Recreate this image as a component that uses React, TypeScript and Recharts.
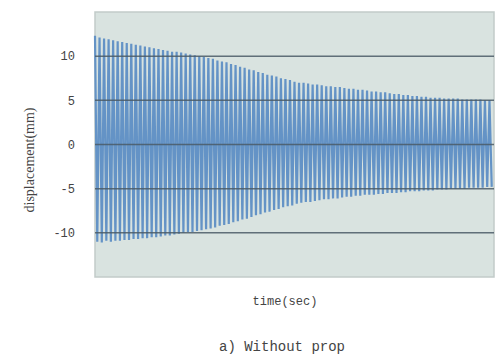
import React from "react";
import { ComposedChart, Line, XAxis, YAxis, CartesianGrid, ReferenceArea, ReferenceLine } from "recharts";

// Peak displacement values (mm) per oscillation cycle
const upperPeaks = [
  12.3, 12.1, 12.0, 11.9, 11.8, 11.7, 11.6, 11.5, 11.4, 11.3,
  11.2, 11.1, 11.0, 10.9, 10.8, 10.7, 10.6, 10.5, 10.5, 10.4,
  10.3, 10.2, 10.1, 10.0, 9.9, 9.8, 9.7, 9.5, 9.4, 9.3,
  9.1, 9.0, 8.8, 8.7, 8.5, 8.4, 8.2, 8.1, 7.9, 7.8,
  7.7, 7.5, 7.4, 7.3, 7.1, 7.0, 7.0, 6.9, 6.8, 6.8,
  6.7, 6.6, 6.6, 6.5, 6.5, 6.4, 6.3, 6.3, 6.2, 6.2,
  6.1, 6.0, 6.0, 5.9, 5.9, 5.8, 5.7, 5.7, 5.6, 5.6,
  5.5, 5.5, 5.4, 5.4, 5.3, 5.3, 5.3, 5.2, 5.2, 5.2,
  5.2, 5.1, 5.1, 5.1, 5.1, 5.1, 5.0, 5.0,
];
const lowerPeaks = [
  -11.0, -11.1, -10.9, -11.0, -10.9, -10.9, -10.8, -10.8, -10.7, -10.7,
  -10.6, -10.6, -10.5, -10.5, -10.4, -10.3, -10.3, -10.2, -10.1, -10.0,
  -9.9, -9.9, -9.8, -9.7, -9.6, -9.5, -9.4, -9.2, -9.1, -9.0,
  -8.8, -8.7, -8.5, -8.4, -8.2, -8.0, -7.9, -7.7, -7.6, -7.4,
  -7.3, -7.1, -7.0, -6.9, -6.7, -6.6, -6.5, -6.5, -6.4, -6.3,
  -6.2, -6.2, -6.1, -6.1, -6.0, -5.9, -5.9, -5.8, -5.8, -5.7,
  -5.7, -5.7, -5.6, -5.6, -5.5, -5.5, -5.5, -5.4, -5.4, -5.3,
  -5.3, -5.3, -5.2, -5.2, -5.2, -5.1, -5.1, -5.1, -5.0, -5.0,
  -5.0, -5.0, -4.9, -4.9, -4.9, -4.9, -4.8, -4.8,
];
const yTicks = [-10, -5, 0, 5, 10];

const data: { t: number; d: number }[] = [];
upperPeaks.forEach((u, i) => {
  data.push({ t: i, d: u });
  data.push({ t: i + 0.5, d: lowerPeaks[i] });
});

const mono = "'Liberation Mono', monospace";
const serif = "'Liberation Serif', serif";

export default function App() {
  return (
    <div style={{ position: "absolute", left: 0, top: 0, width: 496, height: 362, background: "#fff" }}>
      <ComposedChart
        width={496}
        height={362}
        data={data}
        margin={{ top: 12, right: 2, bottom: 85, left: 0 }}
      >
        <CartesianGrid vertical={false} horizontal={false} fill="#d9e3e0" />
        <XAxis dataKey="t" type="number" domain={[0, upperPeaks.length]} hide />
        <YAxis
          width={95}
          domain={[-15, 15]}
          ticks={yTicks}
          axisLine={false}
          tickLine={false}
          tickMargin={14}
          tick={{ fontFamily: mono, fontSize: 12, fill: "#444" }}
        />
        <ReferenceArea y1={-15} y2={15} fill="none" stroke="#c2cbc9" strokeWidth={1.5} />
        <Line
          type="linear"
          dataKey="d"
          stroke="#6493c6"
          strokeWidth={2.2}
          dot={false}
          isAnimationActive={false}
        />
        {yTicks.map((v) => (
          <ReferenceLine key={v} y={v} stroke="#4a5a66" strokeWidth={1.5} strokeOpacity={0.85} zIndex={700} />
        ))}
      </ComposedChart>
      <div
        style={{
          position: "absolute",
          left: 30,
          top: 160,
          transform: "translate(-50%, -50%) rotate(-90deg)",
          fontFamily: serif,
          fontSize: 14,
          color: "#444",
          whiteSpace: "nowrap",
        }}
      >
        displacement(mm)
      </div>
      <div
        style={{
          position: "absolute",
          left: 285,
          top: 302,
          transform: "translate(-50%, -50%)",
          fontFamily: mono,
          fontSize: 12,
          color: "#444",
          whiteSpace: "nowrap",
        }}
      >
        time(sec)
      </div>
      <div
        style={{
          position: "absolute",
          left: 282,
          top: 347,
          transform: "translate(-50%, -50%)",
          fontFamily: mono,
          fontSize: 14,
          color: "#444",
          whiteSpace: "nowrap",
        }}
      >
        a) Without prop
      </div>
    </div>
  );
}
